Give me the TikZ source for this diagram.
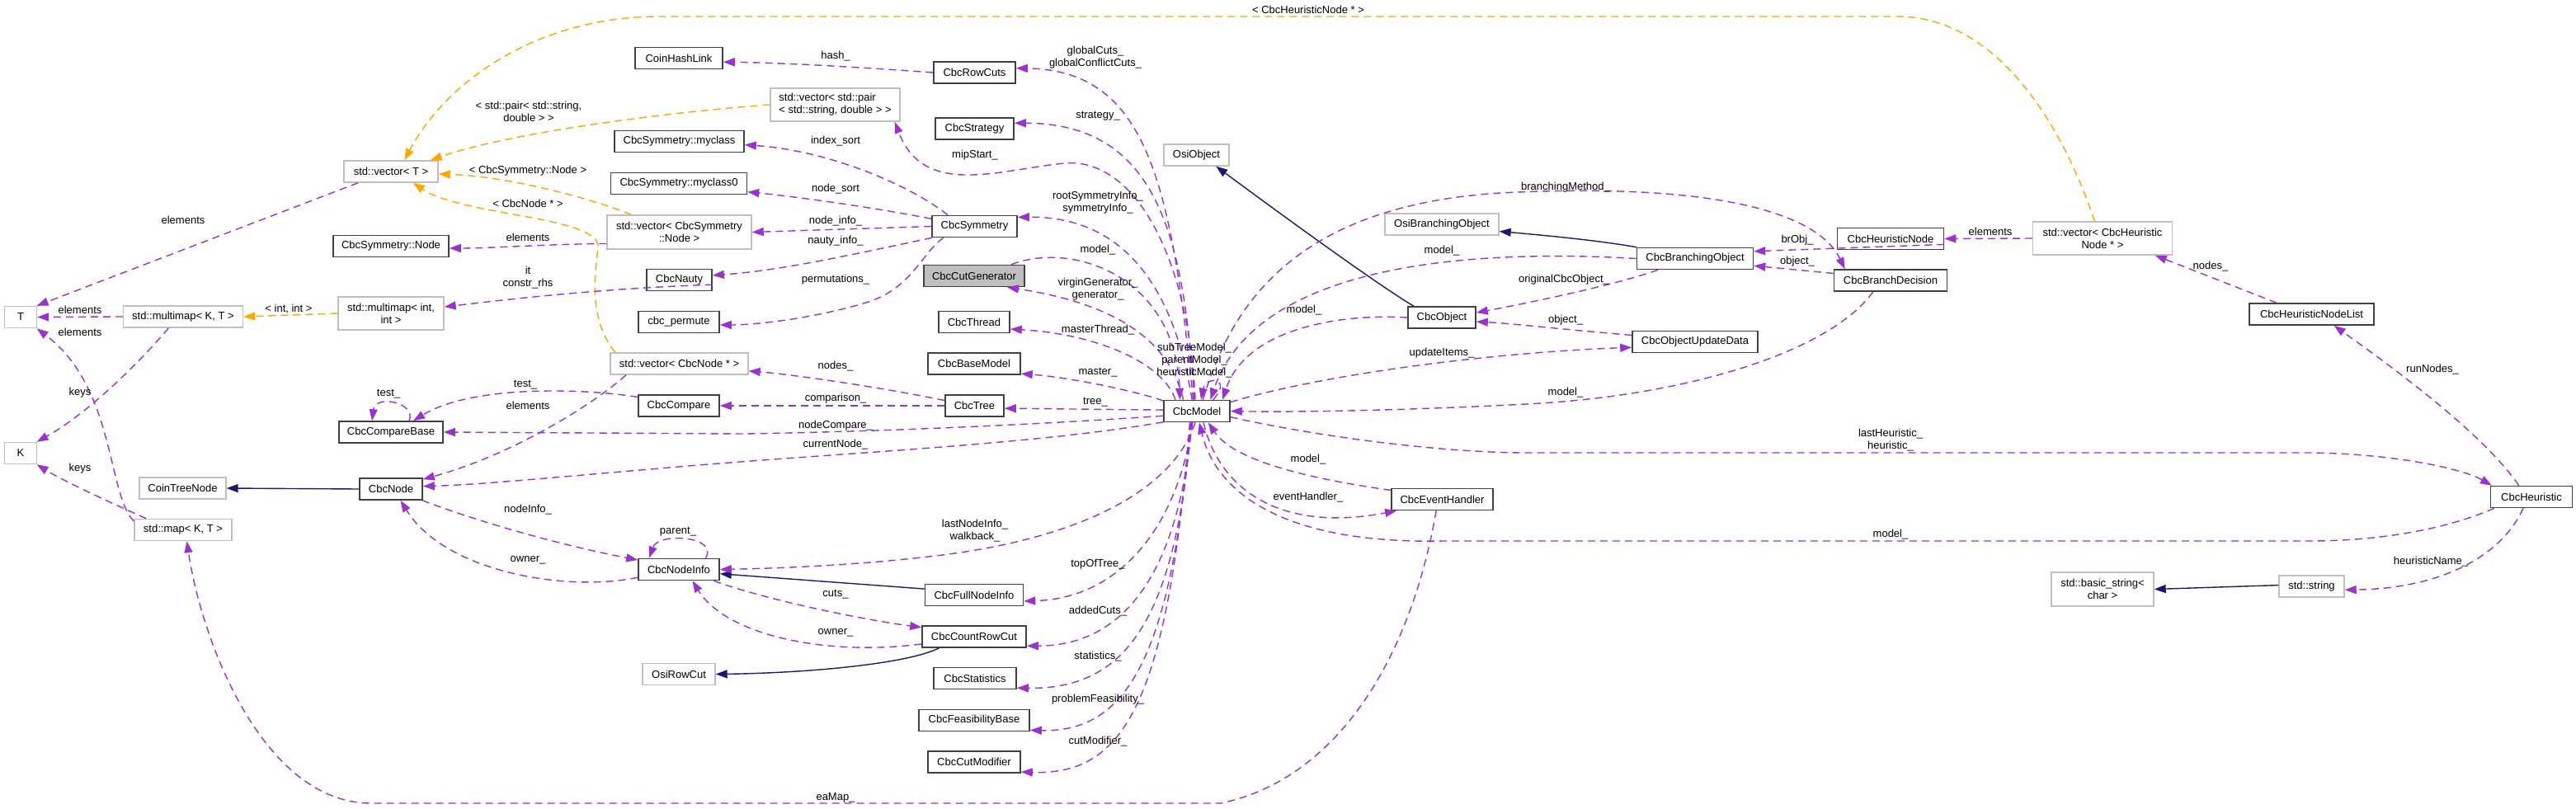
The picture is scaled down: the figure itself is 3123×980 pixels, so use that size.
\documentclass[tikz,border=0pt]{standalone}
\usepackage{fontspec}
\setmainfont{Liberation Sans}
\usetikzlibrary{arrows.meta}
\definecolor{relc}{HTML}{9A32CD}
\definecolor{tplc}{HTML}{FFA500}
\definecolor{inhc}{HTML}{191970}
\definecolor{boxc}{HTML}{404040}
\definecolor{extc}{HTML}{BFBFBF}
\definecolor{curc}{HTML}{BFBFBF}
\tikzset{
  base/.style={font=\fontsize{13}{15}\selectfont, inner sep=0pt, minimum height=26pt, align=center, text=black},
  cls/.style={base, draw=boxc, line width=1.6pt, fill=white},
  ext/.style={base, draw=extc, line width=1.4pt, fill=white},
  cur/.style={base, draw=boxc, line width=1.6pt, fill=curc},
  headx/.style={-{Triangle[length=14pt,width=10pt]}},
  rel/.style={draw=relc, line width=1.4pt, dash pattern=on 9pt off 6pt, headx},
  tpl/.style={draw=tplc, line width=1.4pt, dash pattern=on 9pt off 6pt, headx},
  inh/.style={draw=inhc, line width=1.4pt, headx},
  lbl/.style={font=\fontsize{13}{15}\selectfont, inner sep=0pt, align=center, text=black},
}
\begin{document}
\begin{tikzpicture}[x=1pt,y=-1pt]
\useasboundingbox (0,0) rectangle (3123,980);
\fill[white] (0,0) rectangle (3123,980);
% ---------- nodes ----------
\node[ext, minimum width=39pt] (nT) at (25,384.5) {T};
\node[ext, minimum width=39pt] (nK) at (25,549.5) {K};
\node[ext, minimum width=145pt] (nMultiKT) at (222,384) {std::multimap< K, T >};
\node[ext, minimum width=105pt] (nCoinTree) at (221.5,592) {CoinTreeNode};
\node[ext, minimum width=118pt] (nMapKT) at (222,642.5) {std::map< K, T >};
\node[ext, minimum width=114pt] (nVecT) at (474,208) {std::vector< T >};
\node[cls, minimum width=140pt] (nSymNode) at (474,298.5) {CbcSymmetry::Node};
\node[ext, minimum width=128pt, minimum height=40pt] (nMultiInt) at (474,380) {std::multimap< int,\\int >};
\node[cls, minimum width=126pt] (nCmpBase) at (474,524) {CbcCompareBase};
\node[cls, minimum width=76pt] (nNode) at (474,593) {CbcNode};
\node[cls, minimum width=106pt] (nHash) at (823,70.5) {CoinHashLink};
\node[cls, minimum width=157pt] (nMyclass) at (823.5,171.5) {CbcSymmetry::myclass};
\node[cls, minimum width=165pt] (nMyclass0) at (823,222.5) {CbcSymmetry::myclass0};
\node[ext, minimum width=175pt, minimum height=41pt] (nVecSymNode) at (823.5,281.5) {std::vector< CbcSymmetry\\::Node >};
\node[cls, minimum width=79pt] (nNauty) at (823.5,339.5) {CbcNauty};
\node[cls, minimum width=98pt] (nPermute) at (823,390.5) {cbc\_permute};
\node[ext, minimum width=167pt] (nVecNode) at (823.5,441) {std::vector< CbcNode * >};
\node[cls, minimum width=98pt] (nCompare) at (823,492) {CbcCompare};
\node[cls, minimum width=98pt] (nNodeInfo) at (823,690.5) {CbcNodeInfo};
\node[ext, minimum width=88pt] (nOsiRowCut) at (823,817.5) {OsiRowCut};
\node[cls, minimum width=99pt] (nRowCuts) at (1181.5,88) {CbcRowCuts};
\node[ext, minimum width=157pt, minimum height=40pt, align=left] (nVecPair) at (1012.5,127) {std::vector< std::pair\\< std::string, double > >};
\node[cls, minimum width=95pt] (nStrategy) at (1181.5,156) {CbcStrategy};
\node[cls, minimum width=103pt] (nSym) at (1181.5,274.5) {CbcSymmetry};
\node[cur, minimum width=122pt] (nCutGen) at (1181,334.5) {CbcCutGenerator};
\node[cls, minimum width=86pt] (nThread) at (1181,390.5) {CbcThread};
\node[cls, minimum width=112pt] (nBaseModel) at (1181,441) {CbcBaseModel};
\node[cls, minimum width=71pt] (nTree) at (1181.5,492) {CbcTree};
\node[cls, minimum width=119pt] (nFullNodeInfo) at (1181,721.5) {CbcFullNodeInfo};
\node[cls, minimum width=126pt] (nCountRowCut) at (1181,772) {CbcCountRowCut};
\node[cls, minimum width=100pt] (nStatistics) at (1182,822.5) {CbcStatistics};
\node[cls, minimum width=134pt] (nFeas) at (1181,873.5) {CbcFeasibilityBase};
\node[cls, minimum width=112pt] (nCutMod) at (1181,924) {CbcCutModifier};
\node[ext, minimum width=79pt] (nOsiObject) at (1450.5,188) {OsiObject};
\node[cls, minimum width=80pt] (nModel) at (1451,498.5) {CbcModel};
\node[ext, minimum width=138pt] (nOsiBranch) at (1748,272) {OsiBranchingObject};
\node[cls, minimum width=82pt] (nObject) at (1748,385) {CbcObject};
\node[cls, minimum width=123pt] (nEvent) at (1748.5,605.5) {CbcEventHandler};
\node[cls, minimum width=141pt] (nBranchObj) at (2055,313.5) {CbcBranchingObject};
\node[cls, minimum width=152pt] (nUpdate) at (2055,414.5) {CbcObjectUpdateData};
\node[cls, minimum width=129pt] (nHeurNode) at (2292,289.5) {CbcHeuristicNode};
\node[cls, minimum width=137pt] (nBranchDec) at (2292,340) {CbcBranchDecision};
\node[ext, minimum width=169pt, minimum height=40pt] (nVecHeur) at (2549,289) {std::vector< CbcHeuristic\\Node * >};
\node[cls, minimum width=151pt] (nHeurList) at (2802.5,381) {CbcHeuristicNodeList};
\node[cls, minimum width=99pt] (nHeur) at (3069,602.5) {CbcHeuristic};
\node[ext, minimum width=124pt, minimum height=41pt] (nBasicStr) at (2549,714.5) {std::basic\_string<\\char >};
\node[ext, minimum width=79pt] (nStr) at (2802.5,711) {std::string};
% ---------- inheritance ----------
\draw[inh] (nNode.west) -- (nCoinTree.east);
\draw[inh] (nFullNodeInfo.173) -- (nNodeInfo.-6);
\draw[inh] (nCountRowCut.-162) .. controls (1100,805) and (980,816) .. (nOsiRowCut.east);
\draw[inh] (nObject.158) .. controls (1670,345) and (1560,265) .. (nOsiObject.-30);
\draw[inh] (nBranchObj.169) .. controls (1940,292) and (1880,286) .. (nOsiBranch.-7);
\draw[inh] (nStr.178) -- (nBasicStr.east);
% ---------- template instances ----------
\draw[tpl] (nMultiInt.west) -- (nMultiKT.east);
\draw[tpl] (nVecSymNode.160) .. controls (720,242) and (620,214) .. (nVecT.-3);
\draw[tpl] (nVecNode.170) .. controls (712,385) and (722,330) .. (725,300) .. controls (728,262) and (560,262) .. (nVecT.-27);
\draw[tpl] (nVecPair.west) .. controls (820,135) and (620,160) .. (nVecT.16);
\draw[tpl] (nVecHeur.115) .. controls (2500,150) and (2420,20) .. (2300,20) -- (800,20) .. controls (650,20) and (540,100) .. (nVecT.40);
% ---------- relations, left ----------
\draw[rel] (nVecT.-161) -- (nT.35);
\draw[rel] (nMultiKT.west) -- (nT.east);
\draw[rel] (nMapKT.170) .. controls (130,600) and (140,470) .. (nT.-35);
\draw[rel] (nMapKT.163) .. controls (140,612) and (80,585) .. (nK.-35);
\draw[rel] (nMultiKT.-142) .. controls (160,450) and (100,505) .. (nK.35);
\draw[rel] (nNauty.-8) .. controls (720,350) and (600,365) .. (nMultiInt.7);
\draw[rel] (nVecSymNode.-171) .. controls (660,296) and (600,301) .. (nSymNode.-2);
\draw[rel] (nSym.157) .. controls (1100,222) and (1000,182) .. (nMyclass.-3);
\draw[rel] (nSym.170) .. controls (1050,250) and (960,238) .. (nMyclass0.-7);
\draw[rel] (nSym.west) -- (nVecSymNode.east);
\draw[rel] (nSym.-165) .. controls (1050,305) and (950,328) .. (nNauty.8);
\draw[rel] (nSym.-160) .. controls (1115,310) and (1105,350) .. (1050,367) .. controls (990,385) and (920,394) .. (nPermute.-4);
\draw[rel] (nRowCuts.west) .. controls (1050,82) and (950,76) .. (nHash.-5);
\draw[rel] (nTree.170) .. controls (1080,472) and (970,455) .. (nVecNode.-6);
\draw[rel] (nTree.west) -- (nCompare.east);
\draw[rel] (nCompare.168) .. controls (700,470) and (570,468) .. (nCmpBase.27);
\draw[rel] (nCmpBase.32) .. controls (505,488) and (455,478) .. (nCmpBase.149);
\draw[rel] (nVecNode.-168) .. controls (720,490) and (620,552) .. (nNode.17);
\draw[rel] (nModel.-162) .. controls (1250,540) and (1000,550) .. (800,568) .. controls (680,578) and (580,588) .. (nNode.5);
\draw[rel] (nModel.-172) .. controls (1300,512) and (1100,523) .. (900,526) -- (nCmpBase.east);
\draw[rel] (nModel.178) -- (nTree.-5);
\draw[rel] (nNode.-20) .. controls (600,640) and (700,665) .. (nNodeInfo.167);
\draw[rel] (nNodeInfo.-169) .. controls (690,718) and (540,695) .. (nNode.-50);
\draw[rel] (nNodeInfo.23) .. controls (872,650) and (798,645) .. (nNodeInfo.159);
\draw[rel] (nModel.-98) .. controls (1420,600) and (1300,652) .. (1150,672) .. controls (1050,685) and (950,689) .. (nNodeInfo.east);
\draw[rel] (nModel.-110) .. controls (1425,650) and (1350,726) .. (nFullNodeInfo.-7);
\draw[rel] (nModel.-113) .. controls (1428,700) and (1360,783) .. (nCountRowCut.-10);
\draw[rel] (nModel.-116) .. controls (1425,760) and (1360,836) .. (nStatistics.-13);
\draw[rel] (nModel.-119) .. controls (1420,810) and (1360,888) .. (nFeas.-10);
\draw[rel] (nModel.-122) .. controls (1415,860) and (1360,940) .. (nCutMod.-12);
\draw[rel] (nNodeInfo.-18) .. controls (930,728) and (1050,752) .. (nCountRowCut.170);
\draw[rel] (nCountRowCut.-172) .. controls (1000,796) and (880,770) .. (nNodeInfo.-40);
% ---------- relations, top of CbcModel ----------
\draw[rel] (nModel.108) .. controls (1420,220) and (1390,85) .. (nRowCuts.6);
\draw[rel] (nModel.103) .. controls (1435,280) and (1400,150) .. (nStrategy.8);
\draw[rel] (nModel.98) .. controls (1440,300) and (1370,190) .. (1290,198) .. controls (1210,206) and (1120,240) .. (nVecPair.-16);
\draw[rel] (nModel.113) .. controls (1425,360) and (1370,262) .. (nSym.12);
\draw[rel] (nCutGen.17) .. controls (1300,292) and (1425,335) .. (nModel.146);
\draw[rel] (nModel.140) .. controls (1415,400) and (1330,365) .. (nCutGen.-19);
\draw[rel] (nModel.152) .. controls (1410,440) and (1330,405) .. (nThread.-11);
\draw[rel] (nModel.163) .. controls (1380,475) and (1300,458) .. (nBaseModel.-12);
\draw[rel] (nModel.35) .. controls (1495,458) and (1462,455) .. (nModel.70);
% ---------- relations, right ----------
\draw[rel] (nModel.62) .. controls (1490,380) and (1560,250) .. (1819,234) .. controls (2050,222) and (2200,250) .. (nBranchDec.166);
\draw[rel] (nBranchObj.west) .. controls (1750,300) and (1520,330) .. (nModel.40);
\draw[rel] (nObject.west) .. controls (1620,380) and (1510,400) .. (nModel.24);
\draw[rel] (nModel.15) .. controls (1600,455) and (1800,428) .. (nUpdate.-175);
\draw[rel] (nBranchDec.-147) .. controls (2220,425) and (2050,480) .. (1850,490) .. controls (1700,498) and (1560,500) .. (nModel.east);
\draw[rel] (nModel.-10) .. controls (1600,530) and (1750,549) .. (1850,549) -- (2800,549) .. controls (2900,550) and (2985,568) .. (nHeur.164);
\draw[rel] (nHeur.-163) .. controls (2970,640) and (2890,656) .. (2800,656) -- (1750,656) .. controls (1560,660) and (1475,600) .. (nModel.-78);
\draw[rel] (nEvent.170) .. controls (1620,585) and (1500,565) .. (nModel.-45);
\draw[rel] (nModel.-60) .. controls (1480,600) and (1560,645) .. (nEvent.-166);
\draw[rel] (nEvent.-118) .. controls (1710,800) and (1620,945) .. (1480,974) -- (450,974) .. controls (320,974) and (245,780) .. (nMapKT.-72);
\draw[rel] (nHeurNode.-6) -- (nBranchObj.7);
\draw[rel] (nBranchDec.173) -- (nBranchObj.-7);
\draw[rel] (nVecHeur.west) -- (nHeurNode.east);
\draw[rel] (nHeurList.162) -- (nVecHeur.-18);
\draw[rel] (nHeur.138) .. controls (3010,525) and (2900,445) .. (nHeurList.-27);
\draw[rel] (nHeur.-126) .. controls (3030,680) and (2950,714) .. (nStr.-6);
\draw[rel] (nBranchObj.-163) .. controls (1960,345) and (1860,366) .. (nObject.8);
\draw[rel] (nUpdate.174) .. controls (1900,400) and (1830,392) .. (nObject.-7);
% ---------- labels ----------
\node[lbl] (l01) at (222,267) {elements};
\node[lbl] (l02) at (97,376) {elements};
\node[lbl] (l03) at (97,403) {elements};
\node[lbl] (l04) at (97,476) {keys};
\node[lbl] (l05) at (97,568) {keys};
\node[lbl] (l06) at (350,375) {< int, int >};
\node[lbl] (l07) at (641,135.5) {< std::pair< std::string,\\double > >};
\node[lbl] (l08) at (640,207) {< CbcSymmetry::Node >};
\node[lbl] (l09) at (640,247) {< CbcNode * >};
\node[lbl] (l10) at (640,288) {elements};
\node[lbl] (l11) at (640,337) {it\\constr\_rhs};
\node[lbl] (l12) at (637,467) {test\_};
\node[lbl] (l13) at (471,478) {test\_};
\node[lbl] (l14) at (640,492) {elements};
\node[lbl] (l15) at (640,618) {nodeInfo\_};
\node[lbl] (l16) at (640,679) {owner\_};
\node[lbl] (l17) at (1013,68) {hash\_};
\node[lbl] (l18) at (1328,69.5) {globalCuts\_\\globalConflictCuts\_};
\node[lbl] (l19) at (1331,141) {strategy\_};
\node[lbl] (l20) at (1182,188) {mipStart\_};
\node[lbl] (l21) at (1013,171) {index\_sort};
\node[lbl] (l22) at (1013,229) {node\_sort};
\node[lbl] (l23) at (1013,268) {node\_info\_};
\node[lbl] (l24) at (1013,292) {nauty\_info\_};
\node[lbl] (l25) at (1331,246) {rootSymmetryInfo\_\\symmetryInfo\_};
\node[lbl] (l26) at (1331,303) {model\_};
\node[lbl] (l27) at (1331,351) {virginGenerator\_\\generator\_};
\node[lbl] (l28) at (1013,339) {permutations\_};
\node[lbl] (l29) at (1331,400) {masterThread\_};
\node[lbl] (l30) at (1013,444) {nodes\_};
\node[lbl] (l31) at (1331,452) {master\_};
\node[lbl] (l32) at (1448,437.5) {subTreeModel\_\\parentModel\_\\heuristicModel\_};
\node[lbl] (l33) at (1013,483) {comparison\_};
\node[lbl] (l34) at (1328,488) {tree\_};
\node[lbl] (l35) at (1013,516) {nodeCompare\_};
\node[lbl] (l36) at (1013,539) {currentNode\_};
\node[lbl] (l37) at (1182,643.5) {lastNodeInfo\_\\walkback\_};
\node[lbl] (l38) at (822,645) {parent\_};
\node[lbl] (l39) at (1331,684) {topOfTree\_};
\node[lbl] (l40) at (1013,721) {cuts\_};
\node[lbl] (l41) at (1331,741) {addedCuts\_};
\node[lbl] (l42) at (1013,767) {owner\_};
\node[lbl] (l43) at (1331,796) {statistics\_};
\node[lbl] (l44) at (1331,848) {problemFeasibility\_};
\node[lbl] (l45) at (1331,899) {cutModifier\_};
\node[lbl] (l46) at (1013,967) {eaMap\_};
\node[lbl] (l47) at (1586,12) {< CbcHeuristicNode * >};
\node[lbl] (l48) at (1898,227) {branchingMethod\_};
\node[lbl] (l49) at (1748,304) {model\_};
\node[lbl] (l50) at (1896,339) {originalCbcObject\_};
\node[lbl] (l51) at (1581,376) {model\_};
\node[lbl] (l52) at (1898,388) {object\_};
\node[lbl] (l53) at (1748,428) {updateItems\_};
\node[lbl] (l54) at (1898,476) {model\_};
\node[lbl] (l55) at (2179,291) {brObj\_};
\node[lbl] (l56) at (2179,317) {object\_};
\node[lbl] (l57) at (2413,281) {elements};
\node[lbl] (l58) at (2680,323) {nodes\_};
\node[lbl] (l59) at (2949,448) {runNodes\_};
\node[lbl] (l60) at (2292,534) {lastHeuristic\_\\heuristic\_};
\node[lbl] (l61) at (2292,648) {model\_};
\node[lbl] (l62) at (1586,557) {model\_};
\node[lbl] (l63) at (1586,603) {eventHandler\_};
\node[lbl] (l64) at (2947,681) {heuristicName\_};
\end{tikzpicture}
\end{document}
